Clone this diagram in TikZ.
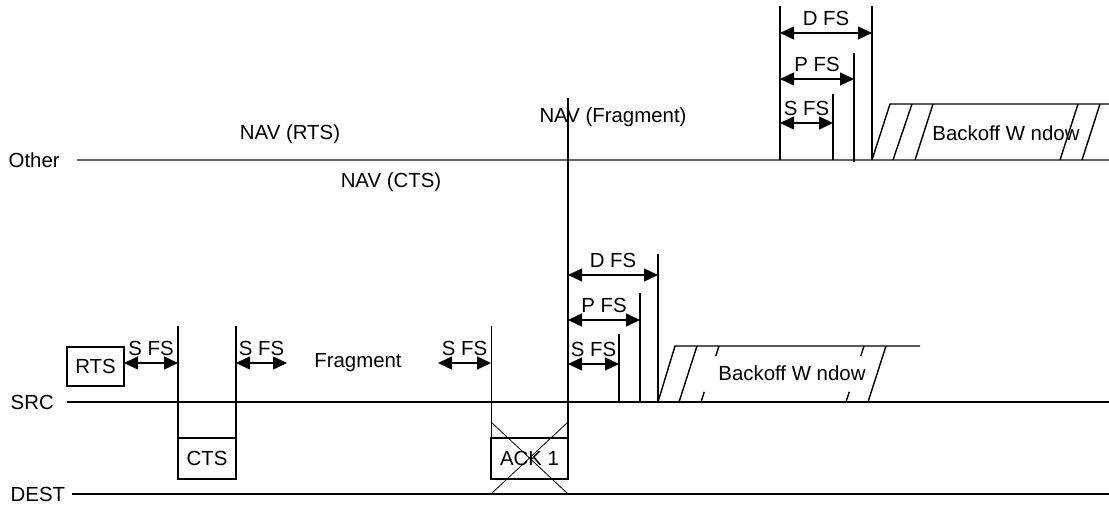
\documentclass[tikz,border=0pt]{standalone}
\usepackage{fontspec}
\setmainfont{Liberation Sans}
\usetikzlibrary{arrows.meta}

\begin{document}
\begin{tikzpicture}[x=0.5pt, y=-0.5pt, line width=0.7pt, >={Triangle[length=7pt, width=6.5pt]},
        every node/.style={font=\fontsize{10.2}{12}\selectfont},
        dim/.style={<->},
        frame/.style={draw, inner sep=0pt, outer sep=0pt, minimum height=20.5pt},
        gap/.style={dash pattern=on 5.3pt off 18.8pt}]
        \useasboundingbox (0,0) rectangle (1109,529);

        % Time lines
        \node[anchor=west, inner sep=0pt] (Other) at (8,160) {Other};
        \node[anchor=west, inner sep=0pt] (SRC) at (10,402) {SRC};
        \node[anchor=west, inner sep=0pt] (DEST) at (10,494) {DEST};
        \coordinate (o0) at (77,160);  \coordinate (o1) at (1109,160);
        \coordinate (s0) at (67,402);  \coordinate (s1) at (1109,402);
        \coordinate (d0) at (72,494);  \coordinate (d1) at (1109,494);
        \draw[gray!80!black] (o0) -- (o1);
        \draw (s0) -- (s1);
        \draw (d0) -- (d1);

        % Frames
        \node[frame, minimum width=28.5pt, minimum height=19.5pt] (RTS) at (95.5,366.5) {RTS};
        \node[frame, minimum width=29pt] (CTS) at (207,458.5) {CTS};
        \node[frame, minimum width=38.5pt] (ACK) at (529.5,458.5) {ACK 1};

        % Frame boundaries
        \coordinate (c1) at (178,326);
        \coordinate (c2) at (236,326);
        \coordinate (a1) at (491,326);
        \coordinate (a2) at (568,98);
        \draw (c1) -- (CTS.north west);
        \draw (c2) -- (CTS.north east);
        \draw[thin] (a1) -- (ACK.north west);
        \draw (a2) -- (ACK.north east);

        % Lost ACK
        \coordinate (x1) at (491,422); \coordinate (x2) at (568,494);
        \coordinate (x3) at (568,422); \coordinate (x4) at (491,494);
        \draw[thin] (x1) -- (x2);
        \draw[thin] (x3) -- (x4);

        % SIFS gaps
        \coordinate (g1a) at (124,363); \coordinate (g1b) at (178,363);
        \coordinate (g2a) at (236,363); \coordinate (g2b) at (287,363);
        \coordinate (g3a) at (438,363); \coordinate (g3b) at (491,363);
        \draw[dim] (g1a) -- (g1b) node[midway, above] (g1) {S FS};
        \draw[dim] (g2a) -- (g2b) node[midway, above] (g2) {S FS};
        \draw[dim] (g3a) -- (g3b) node[midway, above] (g3) {S FS};
        \node (Frag) at (358,363) {Fragment};

        % NAV labels
        \node (navR) at (290,134) {NAV (RTS)};
        \node (navC) at (391,182) {NAV (CTS)};
        \node (navF) at (613,117) {NAV (Fragment)};

        % IFS on SRC
        \coordinate (bD) at (658,254);
        \coordinate (bP) at (640,293);
        \coordinate (bS) at (619,334);
        \draw (bD) -- (bD |- s0);
        \draw (bP) -- (bP |- s0);
        \draw (bS) -- (bS |- s0);
        \coordinate (bD0) at (568,275); \coordinate (bD1) at (658,275);
        \coordinate (bP0) at (568,320); \coordinate (bP1) at (640,320);
        \coordinate (bS0) at (568,364); \coordinate (bS1) at (619,364);
        \draw[dim] (bD0) -- (bD1) node[midway, above] (bDl) {D FS};
        \draw[dim] (bP0) -- (bP1) node[midway, above] (bPl) {P FS};
        \draw[dim] (bS0) -- (bS1) node[midway, above] (bSl) {S FS};

        % Backoff on SRC
        \draw (658,402) -- (675,346) -- (920,346);
        \draw (679,402) -- (697,346);
        \draw[gap] (701,402) -- (719,346);
        \draw[gap] (846,402) -- (864,346);
        \draw (868,402) -- (886,346);
        \node (bwS) at (792,373) {Backoff W ndow};

        % IFS on Other
        \coordinate (t0) at (780,6);
        \coordinate (tD) at (872,6);
        \coordinate (tP) at (854,53);
        \coordinate (tS) at (833,94);
        \draw (t0) -- (t0 |- o0);
        \draw (tD) -- (tD |- o0);
        \draw (tP) -- ([yshift=-1pt]tP |- o0);
        \draw (tS) -- (tS |- o0);
        \coordinate (tD0) at (780,33);  \coordinate (tD1) at (872,33);
        \coordinate (tP0) at (780,79);  \coordinate (tP1) at (854,79);
        \coordinate (tS0) at (780,123); \coordinate (tS1) at (833,123);
        \draw[dim] (tD0) -- (tD1) node[midway, above] (tDl) {D FS};
        \draw[dim] (tP0) -- (tP1) node[midway, above] (tPl) {P FS};
        \draw[dim] (tS0) -- (tS1) node[midway, above] (tSl) {S FS};

        % Backoff on Other
        \draw (872,160) -- (890,104) -- (1109,104);
        \draw (893,160) -- (912,104);
        \draw (915,160) -- (933,104);
        \draw (1060,160) -- (1078,104);
        \draw (1082,160) -- (1100,104);
        \node (bwO) at (1006,133) {Backoff W ndow};
    \end{tikzpicture}
\end{document}
